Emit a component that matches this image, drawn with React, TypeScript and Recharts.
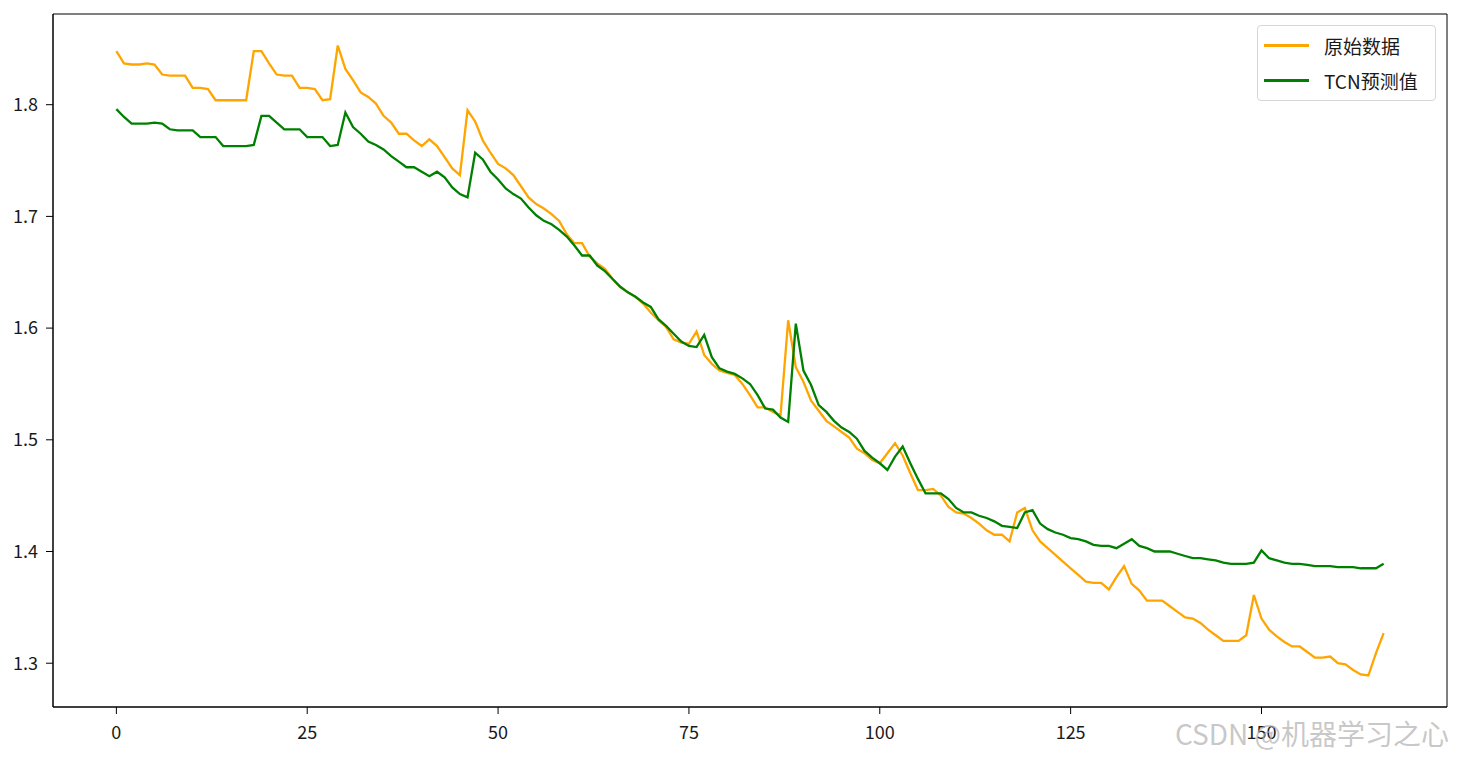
import { LineChart, Line, XAxis, YAxis, Legend, ReferenceArea } from "recharts";

// 原始数据
const original = [
  1.848, 1.837, 1.836, 1.836, 1.837, 1.836, 1.827, 1.826, 1.826, 1.826,
  1.815, 1.815, 1.814, 1.804, 1.804, 1.804, 1.804, 1.804, 1.848, 1.848,
  1.837, 1.827, 1.826, 1.826, 1.815, 1.815, 1.814, 1.804, 1.805, 1.853,
  1.832, 1.822, 1.811, 1.807, 1.801, 1.790, 1.784, 1.774, 1.774, 1.768,
  1.763, 1.769, 1.763, 1.753, 1.743, 1.737, 1.795, 1.785, 1.768, 1.757,
  1.747, 1.743, 1.737, 1.727, 1.717, 1.711, 1.707, 1.702, 1.696, 1.684,
  1.676, 1.676, 1.664, 1.658, 1.653, 1.644, 1.637, 1.632, 1.628, 1.622,
  1.614, 1.607, 1.601, 1.590, 1.587, 1.586, 1.597, 1.576, 1.568, 1.562,
  1.560, 1.558, 1.550, 1.540, 1.529, 1.529, 1.525, 1.522, 1.607, 1.565,
  1.552, 1.535, 1.526, 1.517, 1.512, 1.507, 1.502, 1.492, 1.488, 1.482,
  1.479, 1.488, 1.497, 1.486, 1.470, 1.455, 1.455, 1.456, 1.450, 1.440,
  1.435, 1.434, 1.430, 1.425, 1.419, 1.415, 1.415, 1.409, 1.435, 1.439,
  1.419, 1.409, 1.403, 1.397, 1.391, 1.385, 1.379, 1.373, 1.372, 1.372,
  1.366, 1.377, 1.387, 1.371, 1.365, 1.356, 1.356, 1.356, 1.351, 1.346,
  1.341, 1.340, 1.336, 1.330, 1.325, 1.320, 1.320, 1.320, 1.325, 1.361,
  1.340, 1.330, 1.324, 1.319, 1.315, 1.315, 1.310, 1.305, 1.305, 1.306,
  1.300, 1.299, 1.294, 1.290, 1.289, 1.309, 1.327,
];

// TCN预测值
const predicted = [
  1.796, 1.789, 1.783, 1.783, 1.783, 1.784, 1.783, 1.778, 1.777, 1.777,
  1.777, 1.771, 1.771, 1.771, 1.763, 1.763, 1.763, 1.763, 1.764, 1.790,
  1.790, 1.784, 1.778, 1.778, 1.778, 1.771, 1.771, 1.771, 1.763, 1.764,
  1.793, 1.780, 1.774, 1.767, 1.764, 1.760, 1.754, 1.749, 1.744, 1.744,
  1.740, 1.736, 1.740, 1.735, 1.726, 1.720, 1.717, 1.757, 1.751, 1.740,
  1.733, 1.725, 1.720, 1.716, 1.708, 1.701, 1.696, 1.693, 1.688, 1.682,
  1.674, 1.665, 1.665, 1.656, 1.651, 1.644, 1.637, 1.632, 1.628, 1.623,
  1.619, 1.608, 1.602, 1.595, 1.588, 1.584, 1.583, 1.594, 1.574, 1.564,
  1.561, 1.559, 1.555, 1.550, 1.540, 1.528, 1.527, 1.520, 1.516, 1.604,
  1.562, 1.549, 1.531, 1.525, 1.517, 1.511, 1.507, 1.501, 1.490, 1.484,
  1.479, 1.473, 1.485, 1.494, 1.479, 1.465, 1.452, 1.452, 1.452, 1.447,
  1.439, 1.435, 1.435, 1.432, 1.430, 1.427, 1.423, 1.422, 1.421, 1.435,
  1.437, 1.425, 1.420, 1.417, 1.415, 1.412, 1.411, 1.409, 1.406, 1.405,
  1.405, 1.403, 1.407, 1.411, 1.405, 1.403, 1.400, 1.400, 1.400, 1.398,
  1.396, 1.394, 1.394, 1.393, 1.392, 1.390, 1.389, 1.389, 1.389, 1.390,
  1.401, 1.394, 1.392, 1.390, 1.389, 1.389, 1.388, 1.387, 1.387, 1.387,
  1.386, 1.386, 1.386, 1.385, 1.385, 1.385, 1.389,
];

const xTicks = [0, 25, 50, 75, 100, 125, 150];
const yTicks = [1.3, 1.4, 1.5, 1.6, 1.7, 1.8];
const seriesNames = ["原始数据", "TCN预测值"];
const seriesColors = ["#FFA500", "#008000"];

const data = original.map((v, i) => ({ idx: i, orig: v, pred: predicted[i] }));

// matplotlib default 5% margins
const pad = (lo: number, hi: number): [number, number] => {
  const m = (hi - lo) * 0.05;
  return [lo - m, hi + m];
};
const xDomain = pad(0, original.length - 1);
const allVals = [...original, ...predicted];
const yDomain = pad(Math.min(...allVals), Math.max(...allVals));

const FONT = "'Noto Sans CJK SC', 'Noto Sans', sans-serif";
const tickStyle = { fontSize: 18, fill: "#1a1a1a", fontFamily: FONT };

function LegendBox({ payload }: any) {
  const items = ((payload || []) as { value: string; color: string }[])
    .slice()
    .sort((a, b) => seriesNames.indexOf(a.value) - seriesNames.indexOf(b.value));
  return (
    <div
      style={{
        width: 177,
        height: 72,
        border: "1px solid #d6d6d6",
        borderRadius: 4,
        background: "rgba(255,255,255,0.8)",
        fontFamily: FONT,
        fontSize: 19,
        color: "#1a1a1a",
        paddingTop: 2,
        boxSizing: "content-box",
      }}
    >
      {items.map((it) => (
        <div key={it.value} style={{ display: "flex", alignItems: "center", height: 35 }}>
          <span style={{ display: "inline-block", width: 45, height: 2.5, background: it.color, marginLeft: 6 }} />
          <span style={{ marginLeft: 15, lineHeight: "35px" }}>{it.value}</span>
        </div>
      ))}
    </div>
  );
}

export default function App() {
  return (
    <div style={{ position: "absolute", left: 0, top: 0, width: 1457, height: 759, background: "#fff" }}>
      <LineChart width={1457} height={759} data={data} margin={{ top: 14, right: 10, left: 0, bottom: 0 }}>
        <XAxis
          dataKey="idx"
          type="number"
          domain={xDomain}
          ticks={xTicks}
          height={52}
          tick={tickStyle}
          tickSize={7}
          tickMargin={12}
          tickLine={{ stroke: "#000" }}
          axisLine={{ stroke: "#000" }}
          allowDataOverflow
        />
        <YAxis
          type="number"
          domain={yDomain}
          ticks={yTicks}
          width={53}
          tick={tickStyle}
          tickFormatter={(v: number) => v.toFixed(1)}
          tickSize={7}
          tickMargin={8}
          tickLine={{ stroke: "#000" }}
          axisLine={{ stroke: "#000" }}
          allowDataOverflow
        />
        {/* axes frame, like the matplotlib box */}
        <ReferenceArea
          x1={xDomain[0]}
          x2={xDomain[1]}
          y1={yDomain[0]}
          y2={yDomain[1]}
          fill="none"
          fillOpacity={0}
          stroke="#000"
          strokeWidth={1}
          ifOverflow="visible"
        />
        <Line
          dataKey="orig"
          name={seriesNames[0]}
          stroke={seriesColors[0]}
          strokeWidth={2.3}
          dot={false}
          activeDot={false}
          isAnimationActive={false}
        />
        <Line
          dataKey="pred"
          name={seriesNames[1]}
          stroke={seriesColors[1]}
          strokeWidth={2.3}
          dot={false}
          activeDot={false}
          isAnimationActive={false}
        />
        <Legend
          layout="vertical"
          align="center"
          verticalAlign="middle"
          content={LegendBox}
          wrapperStyle={{ left: 1257, top: 25, width: 179 }}
        />
      </LineChart>
      <div
        style={{
          position: "absolute",
          left: 1175,
          top: 713,
          fontFamily: FONT,
          fontSize: 28,
          color: "rgba(175,175,175,0.7)",
          whiteSpace: "nowrap",
          pointerEvents: "none",
        }}
      >
        CSDN @机器学习之心
      </div>
    </div>
  );
}
